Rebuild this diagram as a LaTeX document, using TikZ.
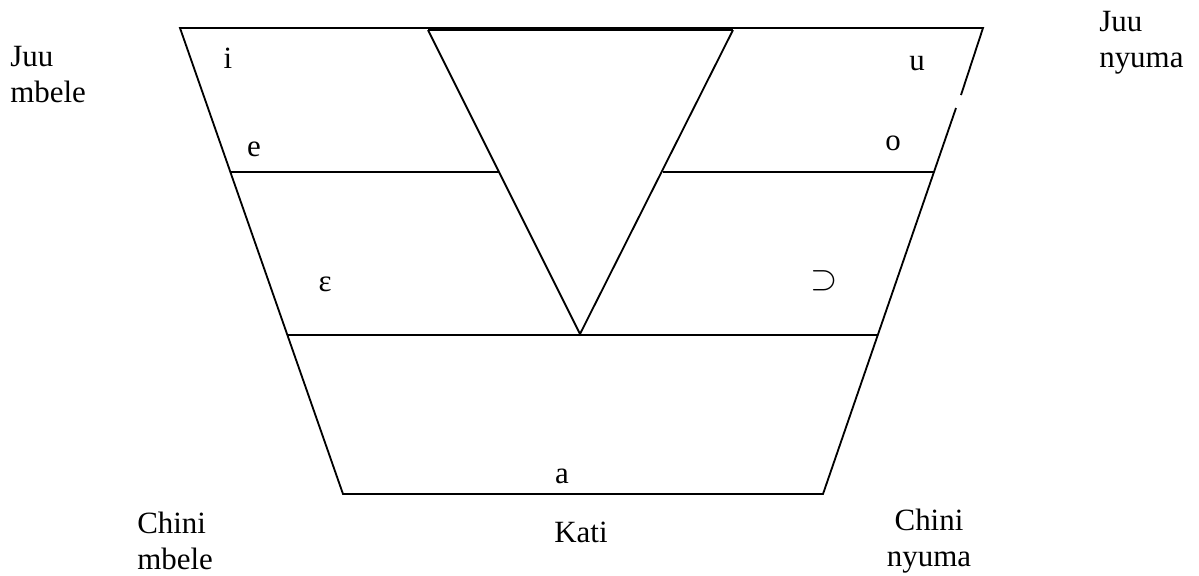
\documentclass[tikz,border=0pt]{standalone}
\usepackage{fontspec}
\setmainfont{Liberation Serif}
\tikzset{
  lbl/.style={inner sep=0pt, font=\fontsize{22}{25.5}\selectfont},
  edge/.style={line width=1.3pt, line join=miter}
}
\begin{document}
\begin{tikzpicture}[x=0.025cm, y=-0.025cm]
    \useasboundingbox (0,0) rectangle (1199,575);
    % outer trapezoid (small break in the right side)
    \draw[edge] (956,108) -- (823,494) -- (343,494) -- (180,28) -- (983,28) -- (961,95);
    % height lines
    \draw[edge] (230,172) -- (499,172);
    \draw[edge] (663,172) -- (934,172);
    \draw[edge] (287,335) -- (877,335);
    % central triangle
    \draw[edge] (428,30) -- (580,334) -- (733,30);
    \draw[line width=2.6pt] (428,29.5) -- (733,29.5);
    % vowels
    \node[lbl, anchor=base] (vi) at (228,68) {i};
    \node[lbl, anchor=base] (vu) at (917,70) {u};
    \node[lbl, anchor=base] (ve) at (254,156) {e};
    \node[lbl, anchor=base] (vo) at (893,150) {o};
    \node[lbl, anchor=base] (veps) at (325,291) {ε};
    \node[lbl, anchor=base, font=\fontsize{25}{28}\selectfont] (vopen) at (824,289) {$\supset$};
    \node[lbl, anchor=base] (va) at (562,483) {a};
    % positions
    \node[lbl, anchor=base west, align=left] (juumbele) at (10,102) {Juu\\mbele};
    \node[lbl, anchor=base west, align=left] (juunyuma) at (1099,67) {Juu\\nyuma};
    \node[lbl, anchor=base west, align=left] (chinimbele) at (137,569) {Chini\\mbele};
    \node[lbl, anchor=base] (kati) at (581,542) {Kati};
    \node[lbl, anchor=base, align=center] (chininyuma) at (929,566) {Chini\\nyuma};
\end{tikzpicture}
\end{document}
